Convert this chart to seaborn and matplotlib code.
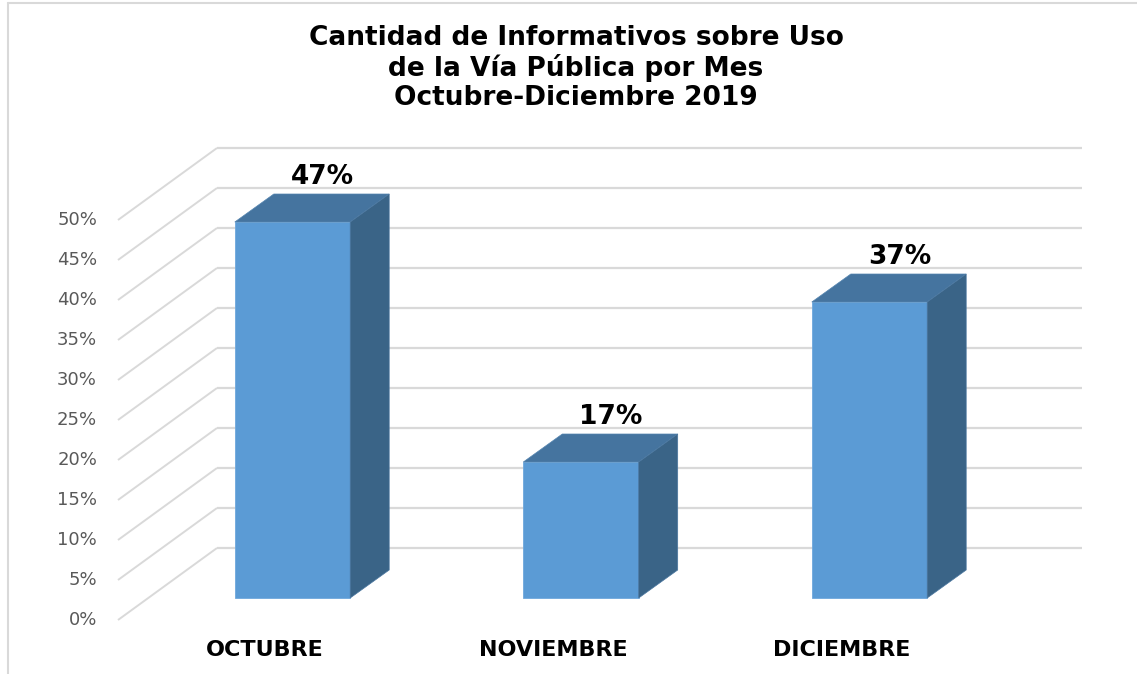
import matplotlib
matplotlib.use("Agg")
import matplotlib.pyplot as plt
import seaborn as sns
import pandas as pd
from matplotlib.patches import Polygon

# ---- data ----
categories = ["OCTUBRE", "NOVIEMBRE", "DICIEMBRE"]
values = [47, 17, 37]
value_labels = ["47%", "17%", "37%"]
yticks = [0, 5, 10, 15, 20, 25, 30, 35, 40, 45, 50]
ytick_labels = [f"{v}%" for v in yticks]
title = "Cantidad de Informativos sobre Uso\nde la Vía Pública por Mes\nOctubre-Diciembre 2019"

sns.set_theme(style="white")
plt.rcParams['font.family'] = ['DejaVu Sans']

W, H, DPI = 1137, 674, 100
fig = plt.figure(figsize=(W / DPI, H / DPI), dpi=DPI)
ax = fig.add_axes([0, 0, 1, 1])

# pixel scale of the oblique projection (bar front plane is the data plane)
PX_X = 288.5   # px per category
PX_Y = 8.0     # px per percent
X0 = 292.5     # px of first category centre
Y0 = 598.0     # px of 0% on bar front plane

# depth offsets (in data units)
bar_dx, bar_dy = 39 / PX_X, 28 / PX_Y          # bar depth
front_dx, front_dy = -30.5 / PX_X, -22 / PX_Y  # chart front plane relative to bar front
back_dx, back_dy = 68.5 / PX_X, 50 / PX_Y      # back wall relative to bar front
wall_right = (1082 - X0) / PX_X
label_dx = 30 / PX_X

grid_c = "#D9D9D9"
for v, lab in zip(yticks, ytick_labels):
    xf = (118 - X0) / PX_X
    yf = v + front_dy
    xb = xf + (back_dx - front_dx)
    yb = v + back_dy
    ax.plot([xf, xb], [yf, yb], color=grid_c, lw=1.4, zorder=1, solid_capstyle="butt")
    ax.plot([xb, wall_right], [yb, yb], color=grid_c, lw=1.6, zorder=1, solid_capstyle="butt")
    ax.text((97 - X0) / PX_X, yf, lab, ha="right", va="center",
            fontsize=13, color="#595959")

df = pd.DataFrame({"mes": categories, "valor": values})
sns.barplot(data=df, x="mes", y="valor", ax=ax, width=0.4,
            color="#5B9BD5", saturation=1, edgecolor="#6FA8DC", linewidth=0.6, zorder=3)
ax.set_xlim(-X0 / PX_X, (W - X0) / PX_X)
ax.set_ylim((Y0 - H) / PX_Y, Y0 / PX_Y)
ax.axis("off")

for i, (v, lab, cat) in enumerate(zip(values, value_labels, categories)):
    l, r = i - 0.2, i + 0.2
    top = Polygon([(l, v), (l + bar_dx, v + bar_dy), (r + bar_dx, v + bar_dy), (r, v)],
                  closed=True, facecolor="#45749F", edgecolor="#5585B0", lw=0.5, zorder=4)
    side = Polygon([(r, 0), (r, v), (r + bar_dx, v + bar_dy), (r + bar_dx, bar_dy)],
                   closed=True, facecolor="#3A6487", edgecolor="#4B77A0", lw=0.5, zorder=4)
    ax.add_patch(top)
    ax.add_patch(side)
    ax.text(i + label_dx, v + bar_dy + 2.1, lab, ha="center", va="center",
            fontsize=19, fontweight="bold", color="black", zorder=5)
    ax.text(i + front_dx + 0.01, (Y0 - 650) / PX_Y, cat, ha="center", va="center",
            fontsize=16, fontweight="bold", color="black")

fig.text(576 / W, 1 - 68 / H, title, ha="center", va="center", fontsize=19,
         fontweight="bold", color="black", linespacing=1.16)

# chart border
fig.add_artist(plt.Line2D([8 / W, 8 / W], [0, 1 - 3 / H], transform=fig.transFigure,
                          color="#D9D9D9", lw=1.5))
fig.add_artist(plt.Line2D([8 / W, 1], [1 - 3 / H, 1 - 3 / H], transform=fig.transFigure,
                          color="#D9D9D9", lw=1.5))

fig.savefig("out.png", dpi=DPI, facecolor="white")
